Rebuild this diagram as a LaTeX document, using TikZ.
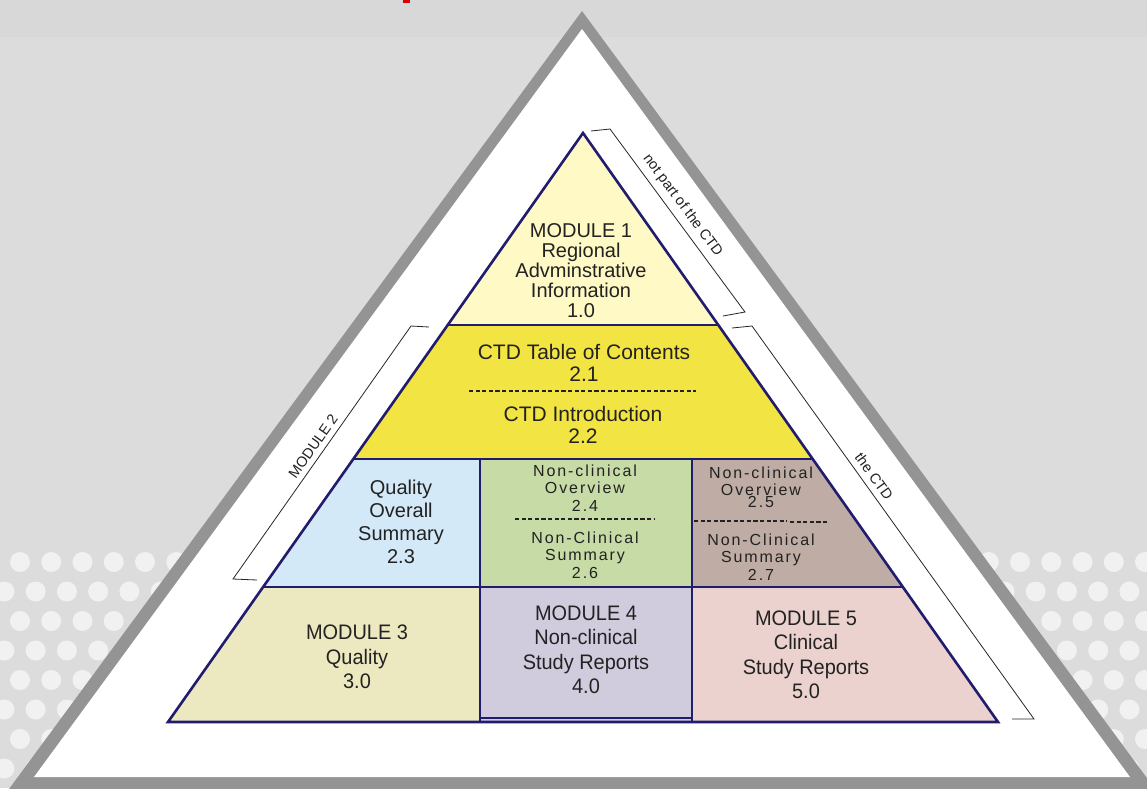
\documentclass[tikz,border=0pt]{standalone}
\usepackage{fontspec}
\setmainfont{Liberation Sans}
\newfontfamily\spacedfont[LetterSpace=12]{Liberation Sans}
\newfontfamily\condfont[FakeStretch=0.95]{Liberation Sans}
\definecolor{bgtop}{HTML}{D8D8D8}
\definecolor{bgmain}{HTML}{DCDCDC}
\definecolor{dotc}{HTML}{F1F1F1}
\definecolor{framec}{HTML}{949494}
\definecolor{navy}{HTML}{221C6E}
\definecolor{txtc}{HTML}{222222}
\definecolor{mone}{HTML}{FEF9C5}
\definecolor{ctdy}{HTML}{F2E442}
\definecolor{qos}{HTML}{D4E9F7}
\definecolor{ncg}{HTML}{C6DBA5}
\definecolor{ncb}{HTML}{BFADA5}
\definecolor{mthree}{HTML}{ECE8C0}
\definecolor{mfour}{HTML}{D0CCDD}
\definecolor{mfive}{HTML}{EBD2CE}
\tikzset{
  txt/.style={align=center, text=txtc, inner sep=0pt},
  bigtxt/.style={txt, font=\fontsize{20}{20}\selectfont},
  ctdtxt/.style={txt, font=\fontsize{21}{22}\selectfont},
  qostxt/.style={txt, font=\fontsize{20}{23}\selectfont},
  smalltxt/.style={txt, font=\spacedfont\fontsize{16}{17.5}\selectfont},
  modtxt/.style={txt, font=\condfont\fontsize{21}{24.5}\selectfont},
  bracket/.style={draw=black!85, line width=0.8pt},
  sidelabel/.style={text=txtc, font=\fontsize{14.5}{15}\selectfont, inner sep=1.5pt},
  outline/.style={draw=navy, line width=2.6pt, line join=miter},
  dashdiv/.style={draw=txtc, line width=1.2pt, dash pattern=on 4.2pt off 2.4pt}
}
\begin{document}
\begin{tikzpicture}[x=1pt,y=-1pt]
\useasboundingbox (0,0) rectangle (1147,788);
% background
\fill[bgmain] (0,0) rectangle (1147,788);
\fill[bgtop] (0,0) rectangle (1147,37);
\fill[red!85!black] (403,0) rectangle (410,2.5);
% dots
\foreach \r in {0,...,7}{
  \foreach \k in {0,...,37}{
    \fill[dotc] ({20-15.6*mod(\r,2)+31.25*\k},{562+29.5*\r}) circle[radius=10pt];
  }
}
% gray frame triangle
\fill[framec] (582,11) -- (-5,808) -- (1169,808) -- cycle;
\fill[white] (582,29) -- (34,777) -- (1130,777) -- cycle;

% pyramid coordinates
\coordinate (A) at (583,133);
\coordinate (L1) at (447.7,325); \coordinate (R1) at (718.3,325);
\coordinate (L2) at (353.3,459); \coordinate (R2) at (812.7,459);
\coordinate (L3) at (263.1,587); \coordinate (R3) at (902.9,587);
\coordinate (L4) at (168,722);   \coordinate (R4) at (998,722);
\coordinate (V1a) at (480,459); \coordinate (V2a) at (692,459);
\coordinate (V1b) at (480,587); \coordinate (V2b) at (692,587);
\coordinate (V1c) at (480,722); \coordinate (V2c) at (692,722);

% fills
\fill[mone] (A) -- (R1) -- (L1) -- cycle;
\fill[ctdy] (L1) -- (R1) -- (R2) -- (L2) -- cycle;
\fill[qos] (L2) -- (V1a) -- (V1b) -- (L3) -- cycle;
\fill[ncg] (V1a) -- (V2a) -- (V2b) -- (V1b) -- cycle;
\fill[ncb] (V2a) -- (R2) -- (R3) -- (V2b) -- cycle;
\fill[mthree] (L3) -- (V1b) -- (V1c) -- (L4) -- cycle;
\fill[mfour] (V1b) -- (V2b) -- (V2c) -- (V1c) -- cycle;
\fill[mfive] (V2b) -- (R3) -- (R4) -- (V2c) -- cycle;

% outlines
\draw[outline] (A) -- (R4) -- (L4) -- cycle;
\draw[outline] (L1) -- (R1);
\draw[outline] (L2) -- (R2);
\draw[outline] (L3) -- (R3);
\draw[outline] (V1a) -- (V1c);
\draw[outline] (V2a) -- (V2c);
\draw[navy, line width=1.6pt] (480,718) -- (692,718);

% dashed dividers
\coordinate (ya) at (469,391); \coordinate (yb) at (696,391);
\draw[dashdiv] (ya) -- (yb);
\coordinate (ga) at (515,519); \coordinate (gb) at (655,519);
\draw[dashdiv] (ga) -- (gb);
\coordinate (ba) at (694,521); \coordinate (bb) at (787,521);
\coordinate (bc) at (790,522); \coordinate (bd) at (827,522);
\draw[dashdiv] (ba) -- (bb);
\draw[dashdiv] (bc) -- (bd);

% brackets
\coordinate (t1) at (591,131); \coordinate (t2) at (610,129);
\coordinate (t3) at (745,312); \coordinate (t4) at (723,316);
\draw[bracket] (t1) -- (t2) -- (t3) -- (t4);
\path (t2) -- (t3) node[sidelabel, pos=0.46, sloped, above=4.5pt] (lbl1) {not part of the CTD};

\coordinate (c1) at (732,328); \coordinate (c2) at (752,326);
\coordinate (c3) at (1034,719); \coordinate (c4) at (1012,719);
\draw[bracket] (c1) -- (c2) -- (c3) -- (c4);
\path (c2) -- (c3) node[sidelabel, pos=0.40, sloped, above=4.5pt] (lbl2) {the CTD};

\coordinate (m1) at (429,327); \coordinate (m2) at (411,326);
\coordinate (m3) at (233,579); \coordinate (m4) at (257,580);
\draw[bracket] (m1) -- (m2) -- (m3) -- (m4);
\path (m3) -- (m2) node[sidelabel, pos=0.50, sloped, above=4pt] (lbl3) {MODULE 2};

% texts
\node[bigtxt] (tm1) at (581,271) {MODULE 1\\Regional\\Advminstrative\\Information\\1.0};
\node[ctdtxt] (ttoc) at (584,363) {CTD Table of Contents\\2.1};
\node[ctdtxt] (tintro) at (583,425) {CTD Introduction\\2.2};
\node[qostxt] (tqos) at (401,522) {Quality\\Overall\\Summary\\2.3};
\node[smalltxt] (tg1) at (585,488) {Non-clinical\\Overview\\2.4};
\node[smalltxt] (tg2) at (585,555) {Non-Clinical\\Summary\\2.6};
\node[smalltxt] (tb1) at (761,487) {Non-clinical\\Overview\\[-6pt]2.5};
\node[smalltxt] (tb2) at (761,557) {Non-Clinical\\Summary\\2.7};
\node[modtxt] (tm3) at (357,657) {MODULE 3\\Quality\\3.0};
\node[modtxt] (tm4) at (586,650) {MODULE 4\\Non-clinical\\Study Reports\\4.0};
\node[modtxt] (tm5) at (806,655) {MODULE 5\\Clinical\\Study Reports\\5.0};
\end{tikzpicture}
\end{document}
